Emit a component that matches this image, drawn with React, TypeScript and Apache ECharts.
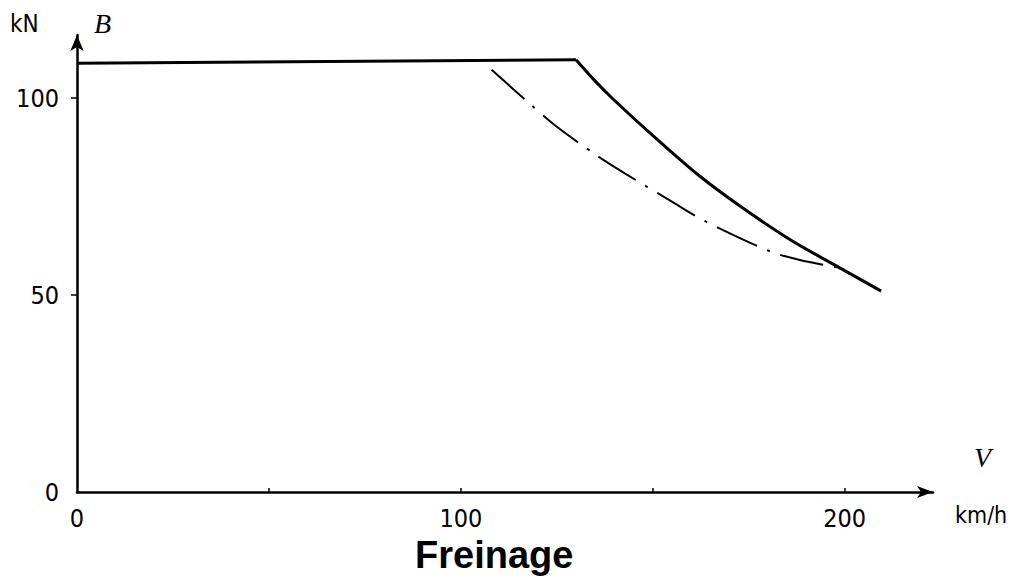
import React, { useEffect, useRef } from "react";
import * as echarts from "echarts";

// Solid curve: flat braking force, then decreasing above 130 km/h
const flatSpeeds = [0, 130];
const flatForces = [108.8, 109.7];
const curveSpeeds = [130, 134.5, 139.7, 150.1, 162.2, 172.7, 185.7, 198.7, 209.5];
const curveForces = [109.7, 104.8, 99.7, 90.4, 80.2, 72.6, 64.1, 56.9, 51.0];
// Dash-dot curve
const dashSpeeds = [108, 118, 124.5, 135.3, 142.7, 155.3, 163.5, 180.5, 188.3, 198.7];
const dashForces = [107.2, 98.5, 93.1, 85.5, 80.9, 73.5, 68.8, 61.1, 58.9, 56.9];
// Ticks
const xLabelValues = [0, 100, 200];
const xTickValues = [50, 100, 150, 200];
const yLabelValues = [0, 50, 100];
const yTickValues = [50, 100];

const zip = (a: number[], b: number[]) => a.map((v, i) => [v, b[i]]);

export default function App() {
  const ref = useRef<HTMLDivElement>(null);
  useEffect(() => {
    if (!ref.current) return;
    const chart = echarts.init(ref.current, null, { renderer: "svg" });
    const labelFont = "'DejaVu Sans Condensed', 'Liberation Sans Narrow', sans-serif";
    chart.setOption({
      animation: false,
      backgroundColor: "#ffffff",
      title: {
        text: "Freinage",
        left: 410,
        top: 531,
        textStyle: {
          fontFamily: "'Liberation Sans', Arial, sans-serif",
          fontWeight: "bold",
          fontSize: 38,
          color: "#000",
        },
      },
      grid: { left: 77, right: 86, top: 35, bottom: 88 },
      xAxis: {
        type: "value",
        min: 0,
        max: 223,
        splitLine: { show: false },
        axisLine: {
          show: true,
          lineStyle: { color: "#000", width: 2.5 },
          symbol: ["none", "arrow"],
          symbolSize: [9, 16],
        },
        axisTick: {
          show: true,
          inside: true,
          length: 4,
          customValues: xTickValues,
          lineStyle: { color: "#000", width: 1.5 },
        },
        axisLabel: {
          customValues: xLabelValues,
          margin: 14,
          fontFamily: labelFont,
          fontSize: 25,
          color: "#000",
        },
      },
      yAxis: {
        type: "value",
        min: 0,
        max: 116,
        splitLine: { show: false },
        axisLine: {
          show: true,
          lineStyle: { color: "#000", width: 2.5 },
          symbol: ["none", "arrow"],
          symbolSize: [10, 16],
        },
        axisTick: {
          show: true,
          length: 6,
          customValues: yTickValues,
          lineStyle: { color: "#000", width: 1.5 },
        },
        axisLabel: {
          customValues: yLabelValues,
          margin: 18,
          fontFamily: labelFont,
          fontSize: 25,
          color: "#000",
        },
      },
      graphic: [
        {
          type: "text",
          left: 10,
          top: 12,
          style: { text: "kN", font: "24px 'DejaVu Sans Condensed', sans-serif", fill: "#000" },
        },
        {
          type: "text",
          left: 94,
          top: 9,
          style: { text: "B", font: "italic 28px 'Liberation Serif', serif", fill: "#000" },
        },
        {
          type: "text",
          left: 974,
          top: 443,
          style: { text: "V", font: "italic 28px 'Liberation Serif', serif", fill: "#000" },
        },
        {
          type: "text",
          left: 955,
          top: 503,
          style: { text: "km/h", font: "23px 'DejaVu Sans Condensed', sans-serif", fill: "#000" },
        },
      ],
      series: [
        {
          type: "line",
          data: zip(flatSpeeds, flatForces),
          showSymbol: false,
          lineStyle: { color: "#000", width: 3 },
        },
        {
          type: "line",
          data: zip(curveSpeeds, curveForces),
          smooth: 0.3,
          showSymbol: false,
          lineStyle: { color: "#000", width: 3 },
        },
        {
          type: "line",
          data: zip(dashSpeeds, dashForces),
          smooth: 0.3,
          showSymbol: false,
          lineStyle: { color: "#000", width: 2, type: [44, 11, 3, 11] },
        },
      ],
    });
    return () => chart.dispose();
  }, []);
  return (
    <div
      ref={ref}
      style={{ position: "fixed", left: 0, top: 0, width: 1019, height: 580 }}
    />
  );
}
